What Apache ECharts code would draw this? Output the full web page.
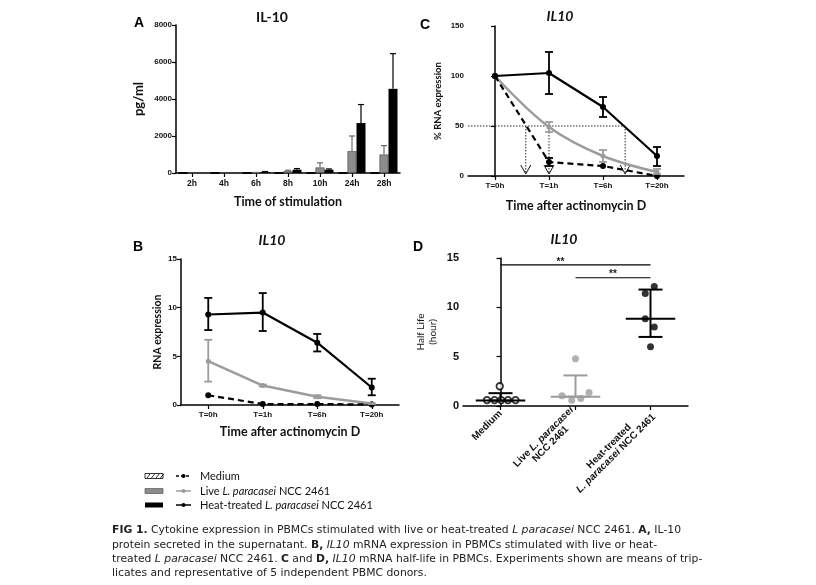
<!DOCTYPE html>
<html><head><meta charset="utf-8">
<script src="https://cdn.jsdelivr.net/npm/echarts@6/dist/echarts.min.js"></script>
<style>html,body{margin:0;padding:0;background:#fff}#c{width:816px;height:585px}</style>
</head><body><div id="c"></div>
<script>
// ---------- Panel A data ----------
const aCats = ['2h','4h','6h','8h','10h','24h','28h'];
const aMedium = [0,0,0,0,0,0,0];
const aLive = [0,0,20,100,300,1180,1000];
const aLiveTop = [0,0,30,150,550,2000,1480];
const aHeat = [0,0,60,180,180,2700,4550];
const aHeatTop = [0,0,80,240,220,3700,6450];

// ---------- Panel B data ----------
const tCats = ['T=0h','T=1h','T=6h','T=20h'];
const bHeat = [9.3,9.5,6.4,1.8];
const bHeatLo = [7.7,7.6,5.5,1.0];
const bHeatHi = [11.0,11.5,7.3,2.7];
const bLive = [4.5,2.0,0.85,0.15];
const bLiveLo = [2.4,1.9,0.7,0.1];
const bLiveHi = [6.7,2.1,1.0,0.2];
const bMed = [1.0,0.1,0.1,0.05];

// ---------- Panel C data ----------
const cHeat = [100,103,69,20];
const cHeatLo = [100,82,59,10];
const cHeatHi = [100,124,79,29];
const cLive = [100,49,20,4];
const cLiveLo = [100,44,14,2];
const cLiveHi = [100,54,26,7];
const cMed = [100,14,10,0];
const cMedLo = [100,10,10,0];
const cMedHi = [100,18,10,0];
const cHalfX = [0.57,1.0,2.41];
const cHalfY = 50;

// ---------- Panel D data ----------
const dCats = ['Medium','Live L. paracasei NCC 2461','Heat-treated L. paracasei NCC 2461'];
const dMedVals = [2.0,0.6,0.6,0.6,0.6,0.6];
const dMedJit = [-0.01,-0.18,-0.08,0.01,0.1,0.2];
const dLiveVals = [4.8,1.05,0.58,0.75,1.36];
const dLiveJit = [0,-0.18,-0.05,0.07,0.18];
const dHeatVals = [12.1,11.4,8.85,8.0,6.0];
const dHeatJit = [0.05,-0.07,-0.07,0.05,0];
const dCenter = [0.55,0.95,8.85];
const dLo = [0.55,0.95,7.0];
const dHi = [1.3,3.1,11.8];
const dSig = [[0,2,14.3,0.8],[1,2,13.0,1.5]];

const F = '"Liberation Sans", Arial, sans-serif';
const FL = 'Lato, "Open Sans", sans-serif';
const FC = '"DejaVu Sans", sans-serif';
const GREY = '#9c9c9c';

const chart = echarts.init(document.getElementById('c'), null, {renderer:'canvas'});

function yAx(grid, min, max, interval, fs, name, gap) {
  return {type:'value', gridIndex:grid, min, max, interval,
    axisLine:{show:true, lineStyle:{color:'#000', width:1.5}},
    axisTick:{show:true, length:4, lineStyle:{color:'#000', width:1.2}},
    splitLine:{show:false},
    axisLabel:{fontFamily:F, fontWeight:'bold', fontSize:fs, color:'#111', margin:4, formatter:(v)=>String(v)},
    name, nameLocation:'middle', nameGap:gap,
    nameTextStyle:{fontFamily:FL, fontWeight:'bold', fontSize:10, color:'#111'}};
}
function xCat(grid, data, fs, name, gap, extra) {
  return Object.assign({type:'category', gridIndex:grid, data,
    axisLine:{show:true, lineStyle:{color:'#000', width:1.5}},
    axisTick:{show:true, alignWithLabel:true, length:4, lineStyle:{color:'#000', width:1.2}},
    axisLabel:{fontFamily:F, fontWeight:'bold', fontSize:fs, color:'#111', margin:6, interval:0},
    name, nameLocation:'middle', nameGap:gap,
    nameTextStyle:{fontFamily:FL, fontWeight:'bold', fontSize:12.5, color:'#111'}}, extra||{});
}
function xVal(grid, min, max) {
  return {type:'value', gridIndex:grid, min, max, show:false, splitLine:{show:false}};
}

function errBars(xi, yi, rows, color, cap, opts) {
  opts = opts || {};
  return {type:'custom', xAxisIndex:xi, yAxisIndex:yi, silent:true, clip:false, z:opts.z||4,
    data: rows,
    renderItem(params, api) {
      const x = api.value(0), lo = api.value(1), hi = api.value(2);
      const a = api.coord([x, lo]), b = api.coord([x, hi]);
      const px = a[0] + (opts.offset||0);
      const st = {stroke:color, lineWidth:opts.lw||1.6};
      const ch = [
        {type:'line', shape:{x1:px,y1:a[1],x2:px,y2:b[1]}, style:st},
        {type:'line', shape:{x1:px-cap,y1:b[1],x2:px+cap,y2:b[1]}, style:st}];
      if (!opts.upperOnly) ch.push({type:'line', shape:{x1:px-cap,y1:a[1],x2:px+cap,y2:a[1]}, style:st});
      return {type:'group', children:ch};
    }};
}
function rowsOf(lo, hi, skipEqual) {
  const r = [];
  lo.forEach((v,i)=>{ if (!(skipEqual && hi[i] <= v + 1e-9)) r.push([i, v, hi[i]]); });
  return r;
}
const pts = (arr) => arr.map((v,i)=>[i,v]);

const series = [];
// ---- A bars ----
series.push({type:'bar', xAxisIndex:0, yAxisIndex:0, data:aMedium, barWidth:9, barGap:'0%',
  itemStyle:{color:'#fff', borderColor:'#000', borderWidth:0.8,
    decal:{symbol:'rect', dashArrayX:[1,0], dashArrayY:[2,3], rotation:-Math.PI/4, color:'#000'}}});
series.push({type:'bar', xAxisIndex:0, yAxisIndex:0, data:aLive, barWidth:9, barGap:'0%',
  itemStyle:{color:'#8c8c8c', borderColor:'#444', borderWidth:0.6}});
series.push({type:'bar', xAxisIndex:0, yAxisIndex:0, data:aHeat, barWidth:9, barGap:'0%',
  itemStyle:{color:'#000'}});
series.push(errBars(0,0, rowsOf(aLive, aLiveTop, true), '#6a6a6a', 3, {upperOnly:true, offset:0, lw:1.2}));
series.push(errBars(0,0, rowsOf(aHeat, aHeatTop, true), '#000', 3, {upperOnly:true, offset:9, lw:1.2}));

// ---- C lines (grid 1, xAxis 2 value) ----
series.push({type:'line', xAxisIndex:2, yAxisIndex:1, data:pts(cLive), smooth:0.35,
  lineStyle:{color:GREY, width:2.5}, itemStyle:{color:GREY}, symbol:'circle', symbolSize:5, z:3});
series.push({type:'line', xAxisIndex:2, yAxisIndex:1, data:pts(cMed),
  lineStyle:{color:'#000', width:2.2, type:[6,4]}, itemStyle:{color:'#000'}, symbol:'circle', symbolSize:6, z:3});
series.push({type:'line', xAxisIndex:2, yAxisIndex:1, data:pts(cHeat),
  lineStyle:{color:'#000', width:2.2}, itemStyle:{color:'#000'}, symbol:'circle', symbolSize:6, z:3});
series.push(errBars(2,1, rowsOf(cLiveLo, cLiveHi, true), GREY, 4, {lw:1.8}));
series.push(errBars(2,1, rowsOf(cMedLo, cMedHi, true), '#000', 4, {lw:1.8}));
series.push(errBars(2,1, rowsOf(cHeatLo, cHeatHi, true), '#000', 4, {lw:1.8}));
series.push({type:'custom', xAxisIndex:2, yAxisIndex:1, silent:true, clip:false, z:2,
  data: cHalfX.map(x=>[x, cHalfY]),
  renderItem(params, api) {
    const x = api.value(0), y = api.value(1);
    const top = api.coord([x, y]), bot = api.coord([x, 0]);
    const st = {stroke:'#111', fill:null, lineWidth:0.9, lineDash:[1.5,1.5]};
    const ast = {stroke:'#111', fill:null, lineWidth:1};
    const ch = [
      {type:'line', shape:{x1:top[0],y1:top[1],x2:bot[0],y2:bot[1]-2}, style:st},
      {type:'polyline', shape:{points:[[bot[0]-5,bot[1]-11],[bot[0],bot[1]-2],[bot[0]+5,bot[1]-11]]}, style:ast}];
    if (params.dataIndex === 0) {
      const l = api.coord([-0.5, y]), r = api.coord([Math.max.apply(null, cHalfX), y]);
      ch.push({type:'line', shape:{x1:l[0],y1:l[1],x2:r[0],y2:r[1]}, style:st});
    }
    return {type:'group', children:ch};
  }});

// ---- B lines (grid 2, xAxis 3) ----
series.push({type:'line', xAxisIndex:3, yAxisIndex:2, data:bLive,
  lineStyle:{color:GREY, width:2.5}, itemStyle:{color:GREY}, symbol:'circle', symbolSize:5, z:3});
series.push({type:'line', xAxisIndex:3, yAxisIndex:2, data:bMed,
  lineStyle:{color:'#000', width:2.2, type:[6,4]}, itemStyle:{color:'#000'}, symbol:'circle', symbolSize:6, z:3});
series.push({type:'line', xAxisIndex:3, yAxisIndex:2, data:bHeat,
  lineStyle:{color:'#000', width:2.2}, itemStyle:{color:'#000'}, symbol:'circle', symbolSize:6, z:3});
series.push(errBars(3,2, rowsOf(bLiveLo, bLiveHi, true), GREY, 4, {lw:1.8}));
series.push(errBars(3,2, rowsOf(bHeatLo, bHeatHi, true), '#000', 4, {lw:1.8}));

// ---- D (grid 3, xAxis 5 value) ----
series.push({type:'scatter', xAxisIndex:5, yAxisIndex:3, data:dMedVals.map((v,i)=>[0+dMedJit[i], v]),
  symbol:'circle', symbolSize:6.5, itemStyle:{color:'#fff', borderColor:'#000', borderWidth:1.8}, z:5});
series.push({type:'scatter', xAxisIndex:5, yAxisIndex:3, data:dLiveVals.map((v,i)=>[1+dLiveJit[i], v]),
  symbol:'circle', symbolSize:7, itemStyle:{color:GREY}, z:5});
series.push({type:'scatter', xAxisIndex:5, yAxisIndex:3, data:dHeatVals.map((v,i)=>[2+dHeatJit[i], v]),
  symbol:'circle', symbolSize:7, itemStyle:{color:'#000'}, z:5});
const dColors = ['#000', GREY, '#000'];
series.push({type:'custom', xAxisIndex:5, yAxisIndex:3, silent:true, clip:false, z:6,
  data: dCenter.map((c,i)=>[i, c, dLo[i], dHi[i]]),
  renderItem(params, api) {
    const x = api.value(0), c = api.value(1), lo = api.value(2), hi = api.value(3);
    const col = dColors[params.dataIndex];
    const st = {stroke:col, lineWidth:2};
    const cl = api.coord([x-0.33, c]), cr = api.coord([x+0.33, c]);
    const pl = api.coord([x, lo]), ph = api.coord([x, hi]);
    const capL = api.coord([x-0.16, 0])[0], capR = api.coord([x+0.16, 0])[0];
    return {type:'group', children:[
      {type:'line', shape:{x1:cl[0],y1:cl[1],x2:cr[0],y2:cr[1]}, style:st},
      {type:'line', shape:{x1:pl[0],y1:pl[1],x2:ph[0],y2:ph[1]}, style:st},
      {type:'line', shape:{x1:capL,y1:ph[1],x2:capR,y2:ph[1]}, style:st},
      {type:'line', shape:{x1:capL,y1:pl[1],x2:capR,y2:pl[1]}, style:st}]};
  }});
series.push({type:'custom', xAxisIndex:5, yAxisIndex:3, silent:true, clip:false, z:6,
  data: dSig,
  renderItem(params, api) {
    const a = api.coord([api.value(0), api.value(2)]), b = api.coord([api.value(1), api.value(2)]);
    const t = api.coord([api.value(3), api.value(2)]);
    return {type:'group', children:[
      {type:'line', shape:{x1:a[0],y1:a[1],x2:b[0],y2:b[1]}, style:{stroke:'#000', lineWidth:1.2}},
      {type:'text', x:t[0], y:t[1]+2, style:{text:'**', fontFamily:F, fontWeight:'bold', fontSize:10, fill:'#222', align:'center', verticalAlign:'bottom'}}]};
  }});

function letter(x, y, t) {
  return {type:'text', x, y, style:{text:t, fontFamily:F, fontWeight:'bold', fontSize:14, fill:'#000', verticalAlign:'middle'}};
}
const ttl = (x,y,text,italic)=>({type:'text', x, y, style:{text, fontFamily:FL, fontWeight:'bold', fontStyle:italic?'italic':'normal', fontSize:14, fill:'#111', align:'center', verticalAlign:'middle'}});

const graphics = [
  letter(134,23,'A'), ttl(272,17,'IL-10',false),
  letter(420,25,'C'), ttl(560,16,'IL10',true),
  letter(133,247,'B'), ttl(272,240,'IL10',true),
  letter(413,247,'D'), ttl(564,239,'IL10',true)
];
// legend
const legRows = [476, 491, 505];
graphics.push({type:'rect', shape:{x:145,y:legRows[0]-2.5,width:18,height:5}, style:{fill:'#fff', stroke:'#000', lineWidth:0.8}});
for (let k=0;k<4;k++) graphics.push({type:'line', shape:{x1:147+k*4.5,y1:legRows[0]+2,x2:150+k*4.5,y2:legRows[0]-2}, style:{stroke:'#000', lineWidth:0.8}});
graphics.push({type:'line', shape:{x1:176,y1:legRows[0],x2:191,y2:legRows[0]}, style:{stroke:'#000', lineWidth:1.5, lineDash:[3,2]}});
graphics.push({type:'circle', shape:{cx:183.5,cy:legRows[0],r:2}, style:{fill:'#000'}});
graphics.push({type:'rect', shape:{x:145,y:legRows[1]-2.5,width:18,height:5}, style:{fill:'#8c8c8c', stroke:'#444', lineWidth:0.6}});
graphics.push({type:'line', shape:{x1:176,y1:legRows[1],x2:191,y2:legRows[1]}, style:{stroke:GREY, lineWidth:1.5}});
graphics.push({type:'circle', shape:{cx:183.5,cy:legRows[1],r:2}, style:{fill:GREY}});
graphics.push({type:'rect', shape:{x:145,y:legRows[2]-2.5,width:18,height:5}, style:{fill:'#000'}});
graphics.push({type:'line', shape:{x1:176,y1:legRows[2],x2:191,y2:legRows[2]}, style:{stroke:'#000', lineWidth:1.5}});
graphics.push({type:'circle', shape:{cx:183.5,cy:legRows[2],r:2}, style:{fill:'#000'}});
const legRich = {n:{fontFamily:FL, fontSize:11, fill:'#111'}, i:{fontFamily:FL, fontSize:11, fontStyle:'italic', fill:'#111'}};
graphics.push({type:'text', x:200, y:legRows[0], style:{text:'{n|Medium}', rich:legRich, verticalAlign:'middle'}});
graphics.push({type:'text', x:200, y:legRows[1], style:{text:'{n|Live }{i|L. paracasei}{n| NCC 2461}', rich:legRich, verticalAlign:'middle'}});
graphics.push({type:'text', x:200, y:legRows[2], style:{text:'{n|Heat-treated }{i|L. paracasei}{n| NCC 2461}', rich:legRich, verticalAlign:'middle'}});

// caption
const CS = 10.8;
const capRich = {
  n:{fontFamily:FC, fontSize:CS, fill:'#222'},
  b:{fontFamily:FC, fontSize:CS, fontWeight:'bold', fill:'#222'},
  i:{fontFamily:FC, fontSize:CS, fontStyle:'italic', fill:'#222'}};
const capLines = [
  '{b|FIG 1.}{n| Cytokine expression in PBMCs stimulated with live or heat-treated }{i|L paracasei}{n| NCC 2461. }{b|A,}{n| IL-10}',
  '{n|protein secreted in the supernatant. }{b|B,}{n| }{i|IL10}{n| mRNA expression in PBMCs stimulated with live or heat-}',
  '{n|treated }{i|L paracasei}{n| NCC 2461. }{b|C}{n| and }{b|D,}{n| }{i|IL10}{n| mRNA half-life in PBMCs. Experiments shown are means of trip-}',
  '{n|licates and representative of 5 independent PBMC donors.}'
];
const capY = [530, 545, 559, 573];
capLines.forEach((t,k)=>graphics.push({type:'text', x:112, y:capY[k], style:{text:t, rich:capRich, verticalAlign:'middle'}}));

const dLabelRich = {
  n:{fontFamily:F, fontWeight:'bold', fontSize:10, color:'#111', align:'center'},
  i:{fontFamily:F, fontWeight:'bold', fontStyle:'italic', fontSize:10, color:'#111', align:'center'}};

const option = {
  animation:false,
  backgroundColor:'#fff',
  grid:[
    {left:176, top:25, width:224, height:148},
    {left:468, top:26, width:216, height:150},
    {left:181, top:259, width:218, height:146},
    {left:463, top:258, width:225, height:148}
  ],
  xAxis:[
    xCat(0, aCats, 8.5, 'Time of stimulation', 22),
    xCat(1, tCats, 8, 'Time after actinomycin D', 23),
    xVal(1, -0.5, 3.5),
    xCat(2, tCats, 8, 'Time after actinomycin D', 20),
    xCat(3, dCats, 10, '', 0, {axisLabel:{rotate:45, interval:0, margin:6, color:'#111',
      formatter:(v)=>{
        if (v==='Medium') return '{n|Medium}';
        if (v.indexOf('Live')===0) return '{n|Live }{i|L. paracasei}\n{n|NCC 2461}';
        return '{n|Heat-treated}\n{i|L. paracasei}{n| NCC 2461}';
      }, rich:dLabelRich}}),
    xVal(3, -0.5, 2.5)
  ],
  yAxis:[
    Object.assign(yAx(0, 0, 8000, 2000, 8, 'pg/ml', 31), {nameTextStyle:{fontFamily:FL, fontWeight:'bold', fontSize:13, color:'#111'}}),
    Object.assign(yAx(1, 0, 150, 50, 8, '% RNA expression', 25), {nameTextStyle:{fontFamily:FL, fontWeight:'bold', fontSize:9.5, color:'#111'}}),
    Object.assign(yAx(2, 0, 15, 5, 8, 'RNA expression', 18), {nameTextStyle:{fontFamily:FL, fontWeight:'bold', fontSize:10.5, color:'#111'}}),
    Object.assign(yAx(3, 0, 15, 5, 11, 'Half Life\n(hour)', 24), {nameTextStyle:{fontFamily:FL, fontSize:10, color:'#111', lineHeight:12}})
  ],
  series,
  graphic: graphics
};
chart.setOption(option);
</script></body></html>
